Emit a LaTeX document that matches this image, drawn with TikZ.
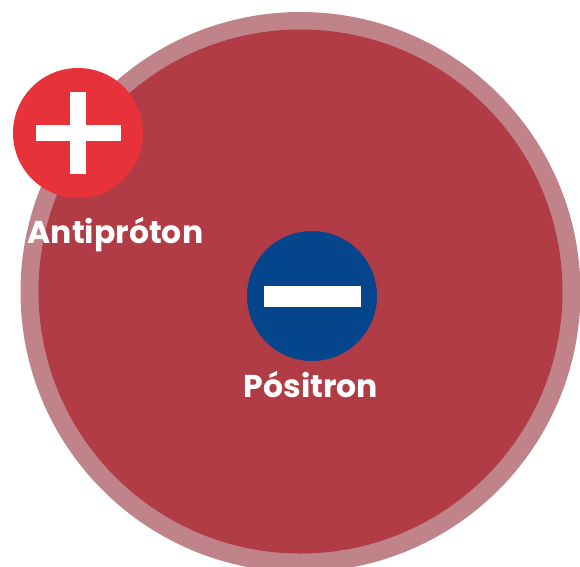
\documentclass[tikz,border=0pt]{standalone}
\usepackage{fontspec}
\setmainfont{Poppins}
\definecolor{ringred}{HTML}{C0838A}
\definecolor{atomred}{HTML}{B23C45}
\definecolor{antired}{HTML}{E8323A}
\definecolor{posblue}{HTML}{05458C}
\tikzset{
    particle/.style={circle, minimum size=130pt, inner sep=0pt},
    partlabel/.style={text=white, anchor=base, inner sep=0pt, font=\bfseries\fontsize{31.5}{36}\selectfont}
}
\begin{document}
\begin{tikzpicture}[x=1pt, y=-1pt]
    \useasboundingbox (0,0) rectangle (580,566);
    \fill[ringred] (300.5,292) circle (280);
    \fill[atomred] (300.5,291.5) circle (262);
    % antiproton with plus sign
    \node[particle, fill=antired] (antiproton) at (78,133) {};
    \fill[white] (antiproton) ++(-42.5,-8) rectangle ++(85,16);
    \fill[white] (antiproton) ++(-8,-41) rectangle ++(16,82);
    \node[partlabel] (antilabel) at (115.5,243) {Antipróton};
    % positron with minus sign
    \node[particle, fill=posblue] (positron) at (312,296) {};
    \fill[white] (positron) ++(-48.5,-10.5) rectangle ++(97,21);
    \node[partlabel] (poslabel) at (311,397) {Pósitron};
\end{tikzpicture}
\end{document}
